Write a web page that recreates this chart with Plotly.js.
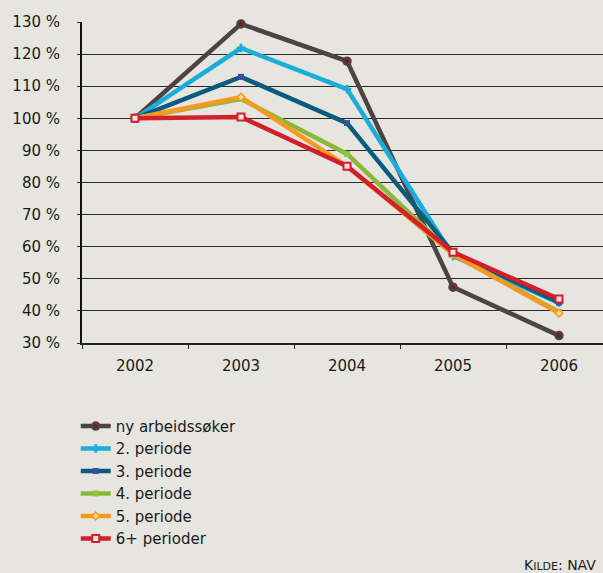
<!DOCTYPE html>
<html>
<head>
<meta charset="utf-8">
<script src="https://cdn.plot.ly/plotly-3.0.1.min.js"></script>
<style>html,body{margin:0;padding:0;background:#e6e5df;}</style>
</head>
<body>
<div id="chart" style="width:603px;height:573px;"></div>
<script>
const years = ['2002', '2003', '2004', '2005', '2006'];
const seriesNames = ['ny arbeidssøker', '2. periode', '3. periode', '4. periode', '5. periode', '6+ perioder'];
const nyArbeidssoker = [100, 129.4, 117.8, 47.4, 32.3];
const periode2 = [100, 121.9, 109.1, 57.1, 42.5];
const periode3 = [100, 112.9, 98.5, 58.1, 42.6];
const periode4 = [100, 106.0, 88.9, 57.6, 39.7];
const periode5 = [100, 106.6, 85.1, 57.6, 39.3];
const periode6 = [100, 100.4, 85.1, 58.3, 43.7];
const yTickVals = [30, 40, 50, 60, 70, 80, 90, 100, 110, 120, 130];
const yTickText = ['30 %', '40 %', '50 %', '60 %', '70 %', '80 %', '90 %', '100 %', '110 %', '120 %', '130 %'];
const sourceText = 'K<span style="font-size:11px">ILDE</span>: NAV';

const values = [nyArbeidssoker, periode2, periode3, periode4, periode5, periode6];
const styles = [
  {line: '#4d4340', marker: {symbol: 'circle', size: 7, color: '#7a1c1c', line: {color: '#4d4340', width: 2.5}}},
  {line: '#1badd9', marker: {symbol: 'cross', size: 7, color: '#1badd9', line: {width: 0}}},
  {line: '#0b5b7e', marker: {symbol: 'square', size: 6, color: '#3b4fa0', line: {width: 0}}},
  {line: '#8cb83a', marker: {symbol: 'square', size: 6, color: '#8dc63f', line: {width: 0}}},
  {line: '#f59a1f', marker: {symbol: 'diamond', size: 6, color: '#f8dca0', line: {color: '#f59a1f', width: 1.5}}},
  {line: '#d21f2b', marker: {symbol: 'square', size: 7, color: '#f1e6e4', line: {color: '#d21f2b', width: 2}}}
];

const traces = values.map((v, i) => ({
  type: 'scatter',
  mode: 'lines+markers',
  x: years,
  y: v,
  name: seriesNames[i],
  line: {color: styles[i].line, width: 4.5},
  marker: styles[i].marker,
  cliponaxis: false
}));

const font = {family: 'DejaVu Sans, sans-serif', size: 15, color: '#1a1a1a'};

const layout = {
  width: 603,
  height: 573,
  margin: {l: 82, r: 0, t: 22, b: 230},
  paper_bgcolor: '#e6e5df',
  plot_bgcolor: '#e6e5df',
  font: font,
  showlegend: true,
  legend: {
    x: -0.012, y: -0.208, xanchor: 'left', yanchor: 'top',
    bgcolor: 'rgba(0,0,0,0)',
    font: {family: 'DejaVu Sans, sans-serif', size: 15, color: '#1a1a1a'},
    itemwidth: 30,
    tracegroupgap: 0
  },
  xaxis: {
    type: 'category',
    range: [-0.5, 4.415],
    showgrid: false,
    showline: true,
    linecolor: '#222',
    linewidth: 2,
    ticks: 'outside',
    ticklen: 4,
    tickcolor: '#222',
    tickson: 'boundaries',
    ticklabelstandoff: 8,
    tickfont: font,
    zeroline: false,
    fixedrange: true
  },
  yaxis: {
    range: [30, 130],
    tickvals: yTickVals,
    ticktext: yTickText,
    showgrid: true,
    gridcolor: '#2a2a2a',
    gridwidth: 1,
    showline: true,
    linecolor: '#111',
    linewidth: 2,
    ticks: 'outside',
    ticklen: 3,
    tickcolor: '#333',
    ticklabelstandoff: 14,
    tickfont: font,
    zeroline: false,
    fixedrange: true
  },
  annotations: [{
    xref: 'paper', yref: 'paper',
    x: 0.99, y: -0.692, xanchor: 'right', yanchor: 'middle',
    text: sourceText,
    showarrow: false,
    font: {family: 'DejaVu Sans, sans-serif', size: 14, color: '#1a1a1a'}
  }]
};

Plotly.newPlot('chart', traces, layout, {displayModeBar: false, staticPlot: true});
</script>
</body>
</html>
